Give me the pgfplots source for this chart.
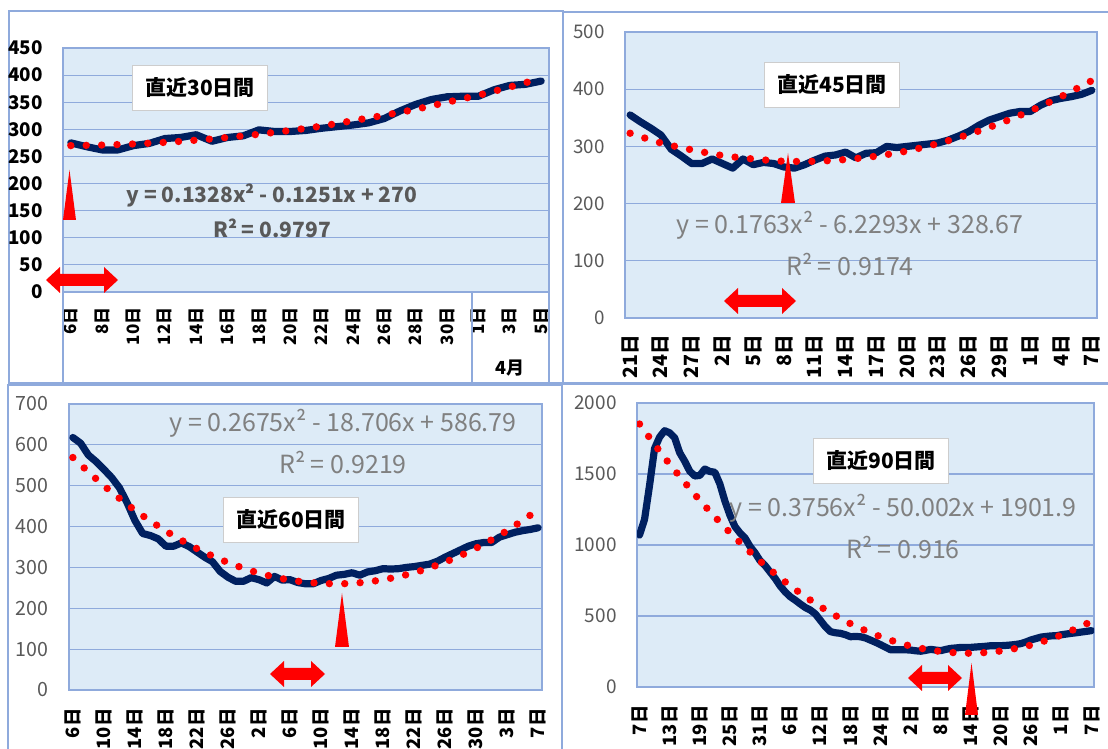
\documentclass[border=0pt]{standalone}
\usepackage{pgfplots}
\pgfplotsset{compat=1.18}
\usepackage{fontspec}
\setmainfont{Noto Sans CJK JP}
\definecolor{navy}{RGB}{0,32,96}
\definecolor{bgblue}{RGB}{221,235,247}
\definecolor{gridblue}{RGB}{143,170,220}
\definecolor{tgray}{RGB}{89,89,89}
\definecolor{egray}{RGB}{128,128,128}
\definecolor{boxgray}{RGB}{205,205,205}
\pgfplotsset{
  panel/.style={
    scale only axis, anchor=south west,
    axis background/.style={fill=bgblue},
    axis line style={gridblue, line width=0.75pt},
    ymajorgrids, grid style={gridblue, line width=0.6pt},
    major tick length=0pt, tick style={draw=none},
    /pgf/number format/assume math mode=true,
    /pgf/number format/1000 sep={},
    yticklabel style={anchor=east, inner sep=0pt, xshift=-10pt},
    xtick=data,
  },
  dataline/.style={navy, line width=3.6pt, line join=round, line cap=round},
  trend/.style={red, line width=3.7pt, line cap=round, dash pattern=on 0pt off 7.7pt, smooth},
}
\newcommand{\dbl}[3]{\fill[red] (#1,#3) -- ({#1+14},{#3-13}) -- ({#1+14},{#3-6}) -- ({#2-14},{#3-6}) -- ({#2-14},{#3-13}) -- (#2,#3) -- ({#2-14},{#3+13}) -- ({#2-14},{#3+6}) -- ({#1+14},{#3+6}) -- ({#1+14},{#3+13}) -- cycle;}
\newcommand{\tri}[4]{\fill[red] (#1,#3) -- (#2,#3) -- ({(#1+#2)/2},#4) -- cycle;}
\begin{document}
\begin{tikzpicture}
\useasboundingbox (0,0) rectangle (554pt,374.5pt);
\fill[white] (0,0) rectangle (554pt,374.5pt);
% ---------- panel frames (px scope) ----------
\begin{scope}[shift={(0pt,374.5pt)}, x=0.5pt, y=-0.5pt]
\draw[gridblue, line width=0.75pt] (9,11) rectangle (563,383);
\draw[gridblue, line width=0.75pt] (1120,12) -- (563,12) -- (563,383) -- (1120,383);
\draw[gridblue, line width=0.75pt] (8,760) -- (8,385) -- (562,385) -- (562,760);
\draw[gridblue, line width=0.75pt] (1120,384) -- (562,384) -- (562,760);
\end{scope}
% ---------- Panel 1 ----------
\begin{axis}[panel, at={(31.5pt,228.5pt)}, width=243pt, height=122pt,
  xmin=-0.5, xmax=30.5, ymin=0, ymax=450, ytick={0,50,...,450},
  xtick={0,2,...,30},
  xticklabels={6日,8日,10日,12日,14日,16日,18日,20日,22日,24日,26日,28日,30日,1日,3日,5日},
  yticklabel style={font=\fontsize{9.4pt}{10pt}\selectfont\bfseries, text=black},
  xticklabel style={yshift=-7.5pt, rotate=90, anchor=east, inner sep=0pt, font=\fontsize{8.5pt}{9pt}\selectfont\bfseries, text=black}]
\addplot[dataline] coordinates {(0,275)(1,268)(2,262)(3,262)(4,270)(5,274)(6,283)(7,285)(8,290)(9,278)(10,285)(11,288)(12,299)(13,296)(14,296)(15,298)(16,302)(17,305)(18,308)(19,312)(20,320)(21,334)(22,346)(23,355)(24,360)(25,361)(26,361)(27,373)(28,381)(29,383)(30,389)};
\addplot[trend] coordinates {(0,270)(2,271)(4,273)(6,276)(8,280)(10,285)(12,291)(14,298)(16,306)(18,316)(20,326)(22,337)(24,350)(26,363)(28,378)(30,394)};
\end{axis}
% ---------- Panel 2 ----------
\begin{axis}[panel, at={(312.5pt,215.5pt)}, width=236pt, height=143pt,
  xmin=-0.5, xmax=45.5, ymin=0, ymax=500, ytick={0,100,...,500},
  xtick={0,3,...,45},
  xticklabels={21日,24日,27日,2日,5日,8日,11日,14日,17日,20日,23日,26日,29日,1日,4日,7日},
  yticklabel style={font=\fontsize{9.4pt}{10pt}\selectfont, text=tgray},
  xticklabel style={yshift=-8.5pt, rotate=90, anchor=east, inner sep=0pt, font=\fontsize{9.8pt}{10pt}\selectfont\bfseries, text=black}]
\addplot[dataline] coordinates {(0,355)(1,343)(2,332)(3,320)(4,295)(5,283)(6,270)(7,270)(8,278)(9,270)(10,262)(11,278)(12,268)(13,272)(14,270)(15,264)(16,262)(17,268)(18,276)(19,283)(20,285)(21,290)(22,280)(23,288)(24,289)(25,300)(26,298)(27,300)(28,302)(29,304)(30,306)(31,311)(32,318)(33,326)(34,337)(35,346)(36,352)(37,358)(38,361)(39,361)(40,372)(41,380)(42,384)(43,387)(44,391)(45,398)};
\addplot[trend] coordinates {(0,323)(3,306)(6,294)(9,284)(12,278)(15,274)(18,274)(21,277)(24,283)(27,292)(30,305)(33,321)(36,340)(39,362)(42,387)(45,415)};
\end{axis}
% ---------- Panel 3 ----------
\begin{axis}[panel, at={(34.5pt,29.5pt)}, width=236.5pt, height=143pt,
  xmin=-0.5, xmax=60.5, ymin=0, ymax=700, ytick={0,100,...,700},
  xtick={0,4,...,60},
  xticklabels={6日,10日,14日,18日,22日,26日,2日,6日,10日,14日,18日,22日,26日,30日,3日,7日},
  yticklabel style={font=\fontsize{9.8pt}{10pt}\selectfont, text=tgray},
  xticklabel style={yshift=-9pt, rotate=90, anchor=east, inner sep=0pt, font=\fontsize{9.2pt}{10pt}\selectfont\bfseries, text=black}]
\addplot[dataline] coordinates {(0,618)(1,604)(2,575)(3,559)(4,540)(5,520)(6,495)(7,458)(8,415)(9,383)(10,378)(11,370)(12,352)(13,352)(14,360)(15,351)(16,338)(17,325)(18,314)(19,290)(20,276)(21,266)(22,266)(23,275)(24,270)(25,262)(26,278)(27,269)(28,270)(29,263)(30,260)(31,260)(32,268)(33,273)(34,281)(35,283)(36,287)(37,281)(38,289)(39,292)(40,297)(41,296)(42,297)(43,300)(44,302)(45,305)(46,308)(47,315)(48,325)(49,334)(50,343)(51,352)(52,358)(53,361)(54,361)(55,374)(56,380)(57,386)(58,390)(59,393)(60,397)};
\addplot[trend] coordinates {(0,569)(4,500)(8,440)(12,389)(16,346)(20,312)(24,286)(28,269)(32,261)(36,261)(40,270)(44,287)(48,313)(52,347)(56,390)(60,441)};
\end{axis}
% ---------- Panel 4 ----------
\begin{axis}[panel, at={(318.5pt,31pt)}, width=228.5pt, height=142pt,
  xmin=-0.5, xmax=90.5, ymin=0, ymax=2000, ytick={0,500,...,2000},
  xtick={0,6,...,90},
  xticklabels={7日,13日,19日,25日,31日,6日,12日,18日,24日,2日,8日,14日,20日,26日,1日,7日},
  yticklabel style={font=\fontsize{9.5pt}{10pt}\selectfont, text=tgray},
  xticklabel style={yshift=-9pt, rotate=90, anchor=east, inner sep=0pt, font=\fontsize{9.2pt}{10pt}\selectfont\bfseries, text=black}]
\addplot[dataline] coordinates {(0,1070)(1,1180)(2,1420)(3,1680)(4,1760)(5,1805)(6,1790)(7,1755)(8,1650)(9,1590)(10,1520)(11,1486)(12,1490)(13,1535)(14,1518)(15,1512)(16,1430)(17,1310)(18,1210)(19,1130)(20,1085)(21,1050)(22,990)(23,945)(24,890)(25,855)(26,810)(27,765)(28,712)(29,670)(30,636)(31,612)(32,585)(33,560)(34,542)(35,515)(36,470)(37,425)(38,390)(39,382)(40,378)(41,368)(42,354)(43,356)(44,354)(45,345)(46,330)(47,315)(48,298)(49,280)(50,262)(51,262)(52,262)(53,262)(54,260)(55,255)(56,252)(57,258)(58,265)(59,260)(60,256)(61,265)(62,272)(63,275)(64,279)(65,279)(66,279)(67,282)(68,284)(69,287)(70,291)(71,291)(72,291)(73,293)(74,296)(75,300)(76,306)(77,318)(78,332)(79,342)(80,352)(81,356)(82,360)(83,361)(84,368)(85,373)(86,378)(87,382)(88,387)(89,392)(90,397)};
\addplot[trend] coordinates {(0,1852)(3,1708)(6,1570)(12,1315)(18,1088)(24,887)(30,713)(36,566)(42,446)(48,354)(54,288)(60,250)(66,238)(72,254)(78,296)(84,366)(90,462)};
\end{axis}
% ---------- annotations (px scope) ----------
\begin{scope}[shift={(0pt,374.5pt)}, x=0.5pt, y=-0.5pt]
% panel 1 category axis lines
\draw[gridblue, line width=0.75pt] (63,292) -- (63,383) -- (549,383) -- (549,292);
\draw[gridblue, line width=0.75pt] (472,292) -- (472,383);
\node[font=\fontsize{9pt}{10pt}\selectfont\bfseries] at (510,368) {4月};
% title boxes
\tikzset{tbox/.style={draw=boxgray, fill=white, line width=0.75pt, minimum width=67.5pt, minimum height=22.5pt, inner sep=0pt, font=\fontsize{10.5pt}{12pt}\selectfont\bfseries}}
\node[tbox] at (200,88) {直近30日間};
\node[tbox] at (832,85) {直近45日間};
\node[tbox] at (291,520) {直近60日間};
\node[tbox] at (881,461) {直近90日間};
% equations
\node[text=tgray, font=\fontsize{10.5pt}{12pt}\selectfont\bfseries] at (272,195) {y = 0.1328x² - 0.1251x + 270};
\node[text=tgray, font=\fontsize{10.5pt}{12pt}\selectfont\bfseries] at (272,228) {R² = 0.9797};
\tikzset{eq/.style={text=egray, font=\fontsize{12.5pt}{14pt}\selectfont}}
\node[eq] at (850,225) {y = 0.1763x² - 6.2293x + 328.67};
\node[eq] at (850,265) {R² = 0.9174};
\node[eq] at (343,423) {y = 0.2675x² - 18.706x + 586.79};
\node[eq] at (343,463) {R² = 0.9219};
\node[eq] at (903,508) {y = 0.3756x² - 50.002x + 1901.9};
\node[eq] at (903,548) {R² = 0.916};
% red markers
\tri{63}{76}{220}{170}
\dbl{46}{118}{280}
\tri{781}{795}{203}{153}
\dbl{724}{796}{301}
\tri{335}{349}{647}{593}
\dbl{270}{325}{674}
\tri{965}{978}{715}{663}
\dbl{908}{962}{678}
\end{scope}
\end{tikzpicture}
\end{document}
